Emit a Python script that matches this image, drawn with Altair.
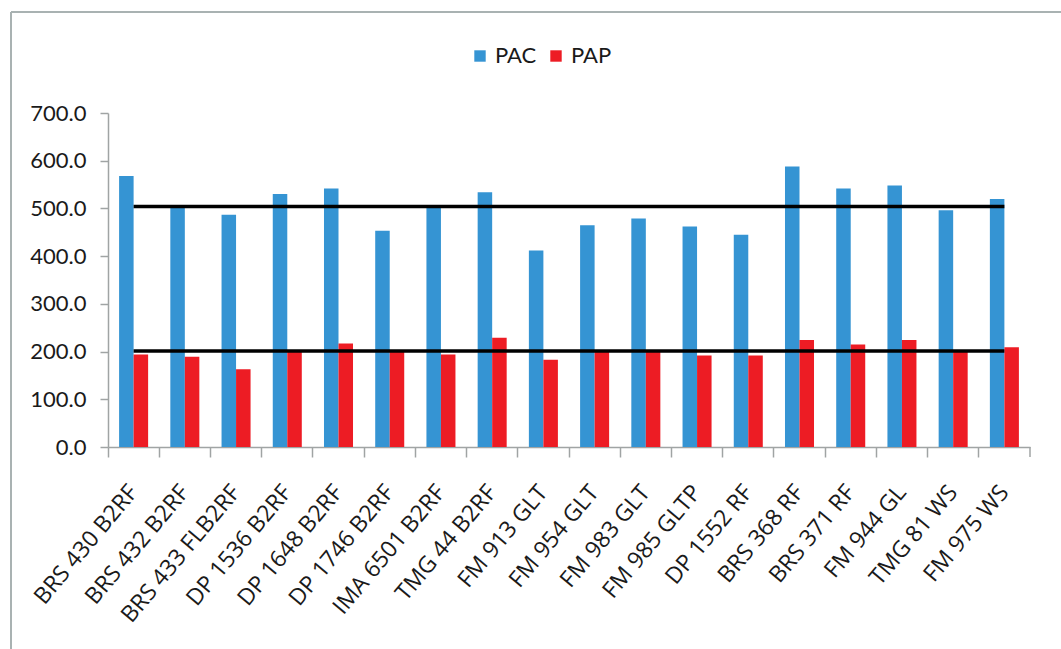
import altair as alt
import pandas as pd

cats = ["BRS 430 B2RF", "BRS 432 B2RF", "BRS 433 FLB2RF", "DP 1536 B2RF", "DP 1648 B2RF",
        "DP 1746 B2RF", "IMA 6501 B2RF", "TMG 44 B2RF", "FM 913 GLT", "FM 954 GLT",
        "FM 983 GLT", "FM 985 GLTP", "DP 1552 RF", "BRS 368 RF", "BRS 371 RF",
        "FM 944 GL", "TMG 81 WS", "FM 975 WS"]
pac = [568, 503, 487, 530, 542, 453, 503, 534, 412, 465, 479, 462, 445, 588, 542, 548, 496, 520]
pap = [194, 189, 163, 200, 217, 200, 194, 229, 183, 200, 200, 192, 192, 224, 215, 224, 199, 209]
series = ["PAC", "PAP"]
colors = ["#3594D3", "#ED1C24"]
mean_lines = [504, 201]
y_ticks = [0, 100, 200, 300, 400, 500, 600, 700]

FONT = "Lato"
XFONT = "Open Sans"
W, H = 922, 334

rows = []
for c, a, b in zip(cats, pac, pap):
    rows.append({"cat": c, "series": "PAC", "v": a})
    rows.append({"cat": c, "series": "PAP", "v": b})
df = pd.DataFrame(rows)

lines_df = pd.DataFrame(
    [{"cat": cats[0], "v": m, "g": i} for i, m in enumerate(mean_lines)]
    + [{"cat": cats[-1], "v": m, "g": i} for i, m in enumerate(mean_lines)]
)

xscale = alt.Scale(domain=cats, paddingInner=0, paddingOuter=0)
yscale = alt.Scale(domain=[0, 700], nice=False, zero=True)

bars = alt.Chart(df).mark_bar().encode(
    x=alt.X("cat:N", scale=xscale, sort=cats, title=None,
            axis=alt.Axis(labelAngle=-50, labelFont=XFONT, labelFontSize=23,
                          labelColor="#1a1a1a",
                          labelPadding=31, tickSize=10, tickColor="#A0A4A4",
                          domainColor="#A0A4A4", domainWidth=1.5, tickWidth=1.5,
                          bandPosition=0, labelAlign="right", labelBaseline="middle",
                          labelOverlap=False)),
    xOffset=alt.XOffset("series:N", sort=series,
                        scale=alt.Scale(paddingInner=0, paddingOuter=0.765)),
    y=alt.Y("v:Q", scale=yscale, title=None,
            axis=alt.Axis(values=y_ticks, format=".1f", grid=False, labelFont=FONT,
                          labelFontSize=22, labelColor="#1a1a1a", labelPadding=14,
                          tickSize=8, tickColor="#A0A4A4", domainColor="#A0A4A4",
                          domainWidth=1.5, tickWidth=1.5)),
    color=alt.Color("series:N", sort=series,
                    scale=alt.Scale(domain=series, range=colors),
                    legend=alt.Legend(title=None, orient="none", direction="horizontal",
                                      legendX=361, legendY=-68, symbolType="square",
                                      symbolSize=130, symbolStrokeWidth=0,
                                      labelFont=FONT, labelFontSize=22,
                                      labelColor="#1a1a1a", columnPadding=8,
                                      labelOffset=4)),
)

hlines = alt.Chart(lines_df).mark_line(color="black", strokeWidth=3.5).encode(
    x=alt.X("cat:N", scale=xscale, sort=cats),
    y=alt.Y("v:Q", scale=yscale),
    detail="g:N",
)

end_tick = alt.Chart(pd.DataFrame({"a": [0]})).mark_rule(color="#A0A4A4", strokeWidth=1.5).encode(
    x=alt.value(W), y=alt.value(H), y2=alt.value(H + 10)
)
frame_left = alt.Chart(pd.DataFrame({"a": [0]})).mark_rule(color="#A9B2B2", strokeWidth=2).encode(
    x=alt.value(-97), y=alt.value(-101), y2=alt.value(H + 202)
)
frame_top = alt.Chart(pd.DataFrame({"a": [0]})).mark_rule(color="#A9B2B2", strokeWidth=2).encode(
    x=alt.value(-97), x2=alt.value(W + 31), y=alt.value(-101)
)

chart = alt.layer(bars, hlines, end_tick, frame_left, frame_top).properties(
    width=W, height=H,
    autosize=alt.AutoSizeParams(type="none"),
    padding={"left": 108, "top": 113, "right": 31, "bottom": 202},
    background="white",
).configure_view(stroke=None)

chart.save("out.html", embed_options={"renderer": "svg", "actions": False})
